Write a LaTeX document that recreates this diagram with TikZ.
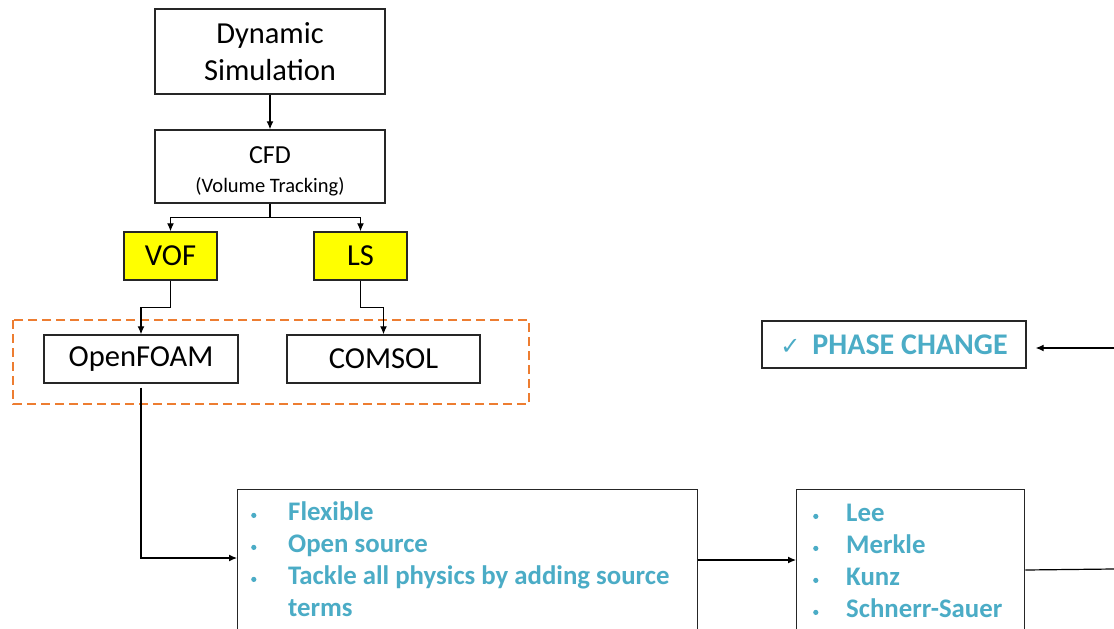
\documentclass[tikz,border=0pt]{standalone}
\usepackage{fontspec}
\setmainfont{Carlito}
\newfontfamily\dejavu{DejaVu Sans}
\usetikzlibrary{arrows.meta}
\definecolor{teal5}{HTML}{4BACC6}
\definecolor{dashorange}{HTML}{ED7D31}
\definecolor{boxyellow}{HTML}{FFFF00}
\newcommand{\smallbul}{\raisebox{2pt}{\tikz\fill[teal5] circle (2.6pt);}}
\begin{document}
\begin{tikzpicture}[x=1pt,y=-1pt,
  box/.style={draw=black!85,line width=1.4pt,rectangle,inner sep=0pt,align=center},
  bigtxt/.style={font=\fontsize{30.5}{37}\selectfont},
  arr/.style={draw=black,line width=1.2pt,-{Latex[length=8pt,width=7pt]}},
  ln/.style={draw=black,line width=1.2pt},
  listtxt/.style={anchor=base west,inner sep=0pt,text=teal5,font=\bfseries\fontsize{26.8}{32}\selectfont}
]
\useasboundingbox (0,0) rectangle (1114,629);
\clip (0,0) rectangle (1114,629);
\fill[white] (0,0) rectangle (1114,629);

% top chain
\node[box,bigtxt,minimum width=230pt,minimum height=85pt] (dyn) at (270,51.5) {Dynamic\\Simulation};
\node[box,minimum width=230pt,minimum height=73pt] (cfd) at (270,166.5) {};
\node[inner sep=0pt,align=center,font=\fontsize{26}{29}\selectfont] (cfdtxt) at (270,171)
  {CFD\\{\fontsize{20.5}{24}\selectfont (Volume Tracking)}};
\node[box,bigtxt,fill=boxyellow,minimum width=93pt,minimum height=48pt] (vof) at (170.5,256) {VOF};
\node[box,bigtxt,fill=boxyellow,minimum width=93pt,minimum height=48pt] (ls) at (360.5,256) {LS};
\node[box,bigtxt,minimum width=194pt,minimum height=48pt] (ofm) at (141,359) {OpenFOAM};
\node[box,bigtxt,minimum width=193pt,minimum height=48pt] (com) at (383.5,359) {COMSOL};

% dashed group
\draw[dashorange,line width=2pt,dash pattern=on 9pt off 5pt] (13,320) rectangle (529,404);

% phase change
\node[box,minimum width=264pt,minimum height=47pt] (phase) at (894,344.5)
  {{\dejavu\fontsize{24}{28}\selectfont\color{teal5}✓}\hspace{12pt}{\color{teal5}\bfseries\fontsize{30}{34}\selectfont PHASE CHANGE}};

% bottom boxes (cut off at the bottom)
\node[box,anchor=north west,minimum width=460pt,minimum height=175pt] (flex) at (237,489) {};
\node[box,anchor=north west,minimum width=228pt,minimum height=175pt] (lee) at (796,489) {};

\node[listtxt] (flextxt) at (251,520)
 {\begin{tabular}[t]{@{}p{37pt}@{}l@{}}
  \smallbul & Flexible\\
  \smallbul & Open source\\
  \smallbul & Tackle all physics by adding source\\
    & terms
  \end{tabular}};
\node[listtxt] (leetxt) at (813,521)
 {\begin{tabular}[t]{@{}p{33pt}@{}l@{}}
  \smallbul & Lee\\
  \smallbul & Merkle\\
  \smallbul & Kunz\\
  \smallbul & Schnerr-Sauer
  \end{tabular}};

% connectors
\coordinate (flexin) at (237,558);
\coordinate (rightout) at (1114,569);
\coordinate (rightin) at (1114,348);

\draw[arr] (dyn.south) -- (cfd.north);
\draw[arr] (cfd.south) -- ++(0,14) -| (vof.north);
\draw[arr] (cfd.south) -- ++(0,14) -| (ls.north);
\draw[arr] (vof.south) -- ++(0,27) -| (ofm.north);
\draw[arr] (ls.south) -- ++(0,27) -| (com.north);
\draw[arr] ([yshift=-4pt]ofm.south) |- (flexin);
\draw[arr] ([yshift=-71pt]flex.north east) -- ([yshift=-71pt]lee.north west);
\draw[ln] ([yshift=-81pt]lee.north east) -- (rightout);
\draw[arr] (rightin) -- ([xshift=9pt,yshift=-3.5pt]phase.east);
\end{tikzpicture}
\end{document}
